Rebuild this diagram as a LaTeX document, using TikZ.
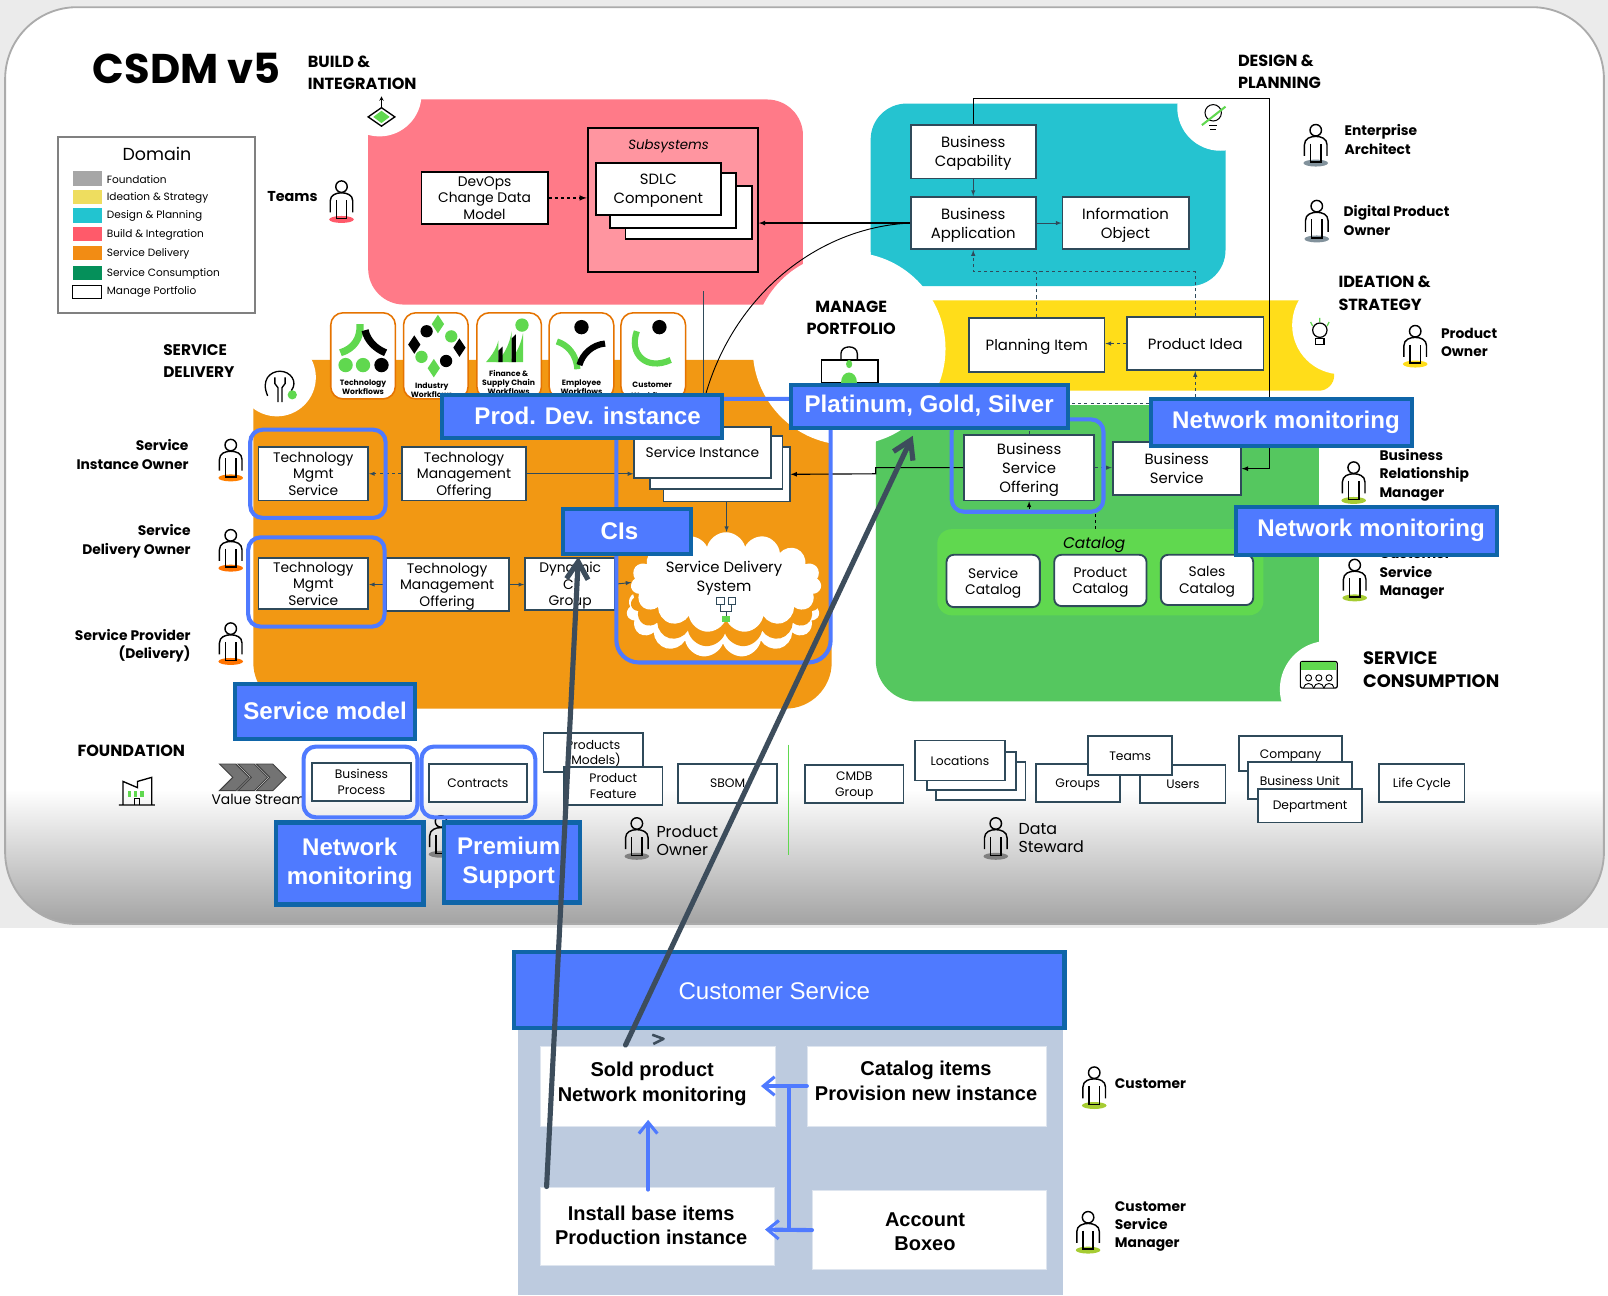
\documentclass[tikz,border=0pt]{standalone}
\usepackage{fontspec}
\setmainfont{Poppins}
\newfontfamily\tagfont{Liberation Sans}
\usetikzlibrary{shapes,calc,arrows.meta}
\definecolor{mslate}{HTML}{2F4A5A}
\definecolor{mblue}{HTML}{4F7AFF}
\definecolor{mtagb}{HTML}{0F65A8}
\definecolor{mdark}{HTML}{3D4D5C}
\definecolor{mpink}{HTML}{FF7A88}
\definecolor{mpink2}{HTML}{FF95A0}
\definecolor{mteal}{HTML}{25C3D0}
\definecolor{myellow}{HTML}{FFDD1A}
\definecolor{morange}{HTML}{F29813}
\definecolor{mgreen}{HTML}{55C75F}
\definecolor{mlime}{HTML}{60D84F}
\definecolor{mpanel}{HTML}{BDCBDF}
\definecolor{lfound}{HTML}{A6A6A6}
\definecolor{lidea}{HTML}{EEDD5F}
\definecolor{ldesign}{HTML}{22C4D0}
\definecolor{lbuild}{HTML}{FF5A6A}
\definecolor{lserv}{HTML}{F28C14}
\definecolor{lcons}{HTML}{05905A}
\newcommand{\fz}[2]{\fontsize{#1}{#2}\selectfont}
\tikzstyle{l1}=[line width=0.9]
\tikzstyle{box}=[draw=mslate, fill=white, line width=1.8, align=center, inner sep=0pt, text depth=0pt, font=\fz{14.5}{18.5}]
\tikzstyle{boxm}=[box, font=\fz{13.5}{16}]
\tikzstyle{boxs}=[box, font=\fz{12}{15}]
\tikzstyle{cardbox}=[draw=orange!90!black, fill=white, line width=1.5, rounded corners=12pt, minimum width=63, minimum height=84, inner sep=0pt]
\tikzstyle{cardtxt}=[align=center, inner sep=0pt, font=\bfseries\fz{7.5}{8.5}]
\tikzstyle{title}=[align=left, anchor=west, inner sep=0pt, font=\bfseries\fz{15.7}{22}]
\tikzstyle{role}=[align=left, anchor=west, inner sep=0pt, font=\bfseries\fz{13.5}{18}]
\tikzstyle{roler}=[role, align=right, anchor=east]
\tikzstyle{rolep}=[align=left, anchor=west, inner sep=0pt, font=\fz{15.5}{18}]
\tikzstyle{halo}=[draw=mblue, line width=4, rounded corners=12pt]
\tikzstyle{tagbox}=[draw=mtagb, fill=mblue, line width=4, text=white, align=center, inner sep=0pt, font=\tagfont\bfseries\fz{23.5}{28}]
\tikzstyle{whitebox}=[fill=white, draw=mpanel!50!white, line width=0.5, inner sep=0pt]
\tikzstyle{whitetxt}=[align=center, inner sep=0pt, font=\tagfont\bfseries\fz{19.5}{24}]
\tikzstyle{arr}=[l1, draw=mslate, ->, >=latex]
\tikzstyle{arrd}=[arr, dashed]
\tikzstyle{arrb}=[arr, line width=1.1, draw=black]
\tikzstyle{bluearr}=[line width=4, draw=mblue, line cap=round, -{Straight Barb[length=11pt,width=18pt,line width=3pt]}]
\tikzstyle{darkarr}=[line width=5, draw=mdark, line cap=round, -{Straight Barb[length=17pt,width=21pt]}]
\tikzset{person/.pic={
    \fill[#1] (0,18) ellipse[x radius=12, y radius=3.4];
    \draw[line width=1.4] (0,-14) circle[radius=5.6];
    \draw[line width=1.4] (-11,11) -- (-11,0) .. controls (-11,-6) and (-5,-8) .. (0,-8) .. controls (5,-8) and (11,-6) .. (11,0) -- (11,11);
    \draw[line width=1.4] (-5,-1) -- (-5,17) -- (5,17) -- (5,-1);
}}
\begin{document}
\begin{tikzpicture}[x=1pt, y=-1pt]
    \useasboundingbox (0,0) rectangle (1568,1263);

    % frame
    \fill[black!8] (0,0) rectangle (1568,905);
    \fill[white, rounded corners=70pt] (5,7) rectangle (1564,901);
    \begin{scope}
        \clip[rounded corners=70pt] (5,7) rectangle (1564,901);
        \shade[top color=white, bottom color=black!36] (5,770) rectangle (1564,901);
    \end{scope}
    \draw[black!33, line width=1.8, rounded corners=70pt] (5,7) rectangle (1564,901);

    % domains
    \fill[mpink, rounded corners=35pt] (359,97) rectangle (783,297);
    \fill[mteal, rounded corners=35pt] (849,101) rectangle (1195,279);
    \fill[myellow, rounded corners=15pt] (880,293) rectangle (1301,381);
    \fill[morange, rounded corners=45pt] (247,351) rectangle (811,691);
    \fill[mgreen, rounded corners=40pt] (854,395) rectangle (1286,684);
    \fill[white] (370,92) circle[radius=41];
    \fill[white] (1190,105) circle[radius=42];
    \fill[white] (1308,317) circle[radius=48];
    \fill[white] (270,368) circle[radius=38];
    \fill[white] (1295,672) circle[radius=47];
    \fill[white] (828,340) circle[radius=94];

    % titles
    \node[inner sep=0pt, font=\bfseries\fz{40.5}{46}] (csdm) at (182,67) {CSDM v5};
    \node[title] (ttbuild) at (300,71) {BUILD \&\\INTEGRATION};
    \node[title] (ttdesign) at (1207,70) {DESIGN \&\\PLANNING};
    \node[title] (ttidea) at (1305,286) {IDEATION \&\\STRATEGY};
    \node[title, font=\bfseries\fz{15}{22}] (ttserv) at (159,352) {SERVICE\\DELIVERY};
    \node[title, align=center, anchor=center] (ttmanage) at (830,310) {MANAGE\\PORTFOLIO};
    \node[title, font=\bfseries\fz{17.5}{22}] (ttcons) at (1329,653) {SERVICE\\CONSUMPTION};
    \node[title, anchor=center] (ttfound) at (128,732) {FOUNDATION};

    % legend
    \node[draw=black!50, line width=2, minimum width=192, minimum height=171, inner sep=0pt] (legend) at (153,219.5) {};
    \node[inner sep=0pt, font=\fz{17}{20}] (legendt) at (153,150) {Domain};
    \foreach \n/\y/\c/\t in {a/174/lfound/Foundation, b/192/lidea/Ideation \& Strategy, c/210/ldesign/Design \& Planning, d/228/lbuild/Build \& Integration, e/247/lserv/Service Delivery, f/266/lcons/Service Consumption}{
            \fill[\c] (71,\y-7) rectangle (99,\y+7);
            \node[anchor=west, inner sep=0pt, font=\fz{10.3}{12}] (leg\n) at (104,\y+1) {\t};
        }
    \draw[black, line width=0.9] (71,278) rectangle (99,291);
    \node[anchor=west, inner sep=0pt, font=\fz{10.3}{12}] (legg) at (104,285) {Manage Portfolio};

    % build
    \node[boxm, draw=black, minimum width=123, minimum height=51] (devops) at (472.5,193) {DevOps\\Change Data\\Model};
    \node[draw=black, fill=mpink2, line width=1.8, minimum width=166, minimum height=140, inner sep=0pt] (subsys) at (656,195) {};
    \node[inner sep=0pt, text depth=0pt, font=\itshape\fz{13}{16}] (subsyst) at (652,141) {Subsystems};
    \node[box, draw=black, minimum width=123, minimum height=52] (sdlc3) at (671.5,207) {};
    \node[box, draw=black, minimum width=123, minimum height=53] (sdlc2) at (656.5,195.5) {};
    \node[box, draw=black, minimum width=122, minimum height=51] (sdlc1) at (642,184.5) {SDLC\\Component};
    \draw[arrb, dashed, line width=1.4] (devops.east) -- (devops.east -| subsys.west);

    % design
    \node[box, minimum width=122, minimum height=52] (bc) at (949,148) {Business\\Capability};
    \node[box, minimum width=122, minimum height=51] (ba) at (949,217.5) {Business\\Application};
    \node[box, minimum width=123, minimum height=51] (io) at (1097.5,217.5) {Information\\Object};
    \draw[arr] (bc) -- (ba);
    \draw[arr] (ba) -- (io);

    % ideation
    \node[box, minimum width=132, minimum height=53] (planning) at (1011,336.5) {Planning Item};
    \node[box, minimum width=133, minimum height=52] (pid) at (1165.5,335) {Product Idea};
    \coordinate (dashy) at (949,265);
    \coordinate (dashlow) at (1165.5,393);
    \draw[arrd] (pid.north) |- (dashy) -- (ba.south);
    \draw[mslate, l1, dashed] (planning.north) -- (planning.north |- dashy);
    \draw[arrd] (pid.west) -- (pid.west -| planning.east);

    % cards
    \node[cardbox] (card1) at (354,347) {};
    \node[cardbox] (card2) at (425,347) {};
    \node[cardbox] (card3) at (496.5,347) {};
    \node[cardbox] (card4) at (567,347) {};
    \node[cardbox] (card5) at (637,347) {};
    \draw[mlime, line width=7] (351,316) .. controls (352,330) and (345,340) .. (332,344);
    \draw[black, line width=7] (356,322) .. controls (358,332) and (366,340) .. (376,344);
    \foreach \x/\c in {337/mlime,354/mlime,372/black}{
            \fill[\c] (\x,356) circle[radius=7];
        }
    \foreach \x/\y/\c in {416/323/black,440/328/mlime,411/348/mlime,435/352/black}{
            \fill[\c] (\x,\y) circle[radius=6];
        }
    \foreach \x/\y/\c in {427/316/mlime,404/336/black,448/339/black,423/359/mlime}{
            \fill[\c] (\x,\y-9) -- (\x+6,\y) -- (\x,\y+9) -- (\x-6,\y) -- cycle;
        }
    \fill[mlime] (509,317) circle[radius=6.5];
    \fill[mlime] (474,353) .. controls (480,346) and (484,340) .. (486,332) -- (486,353) -- cycle;
    \fill[mlime] (484,353) .. controls (492,346) and (497,335) .. (499,323) -- (499,353) -- cycle;
    \fill[mlime] (496,353) .. controls (504,345) and (508,335) .. (510,325) -- (510,353) -- cycle;
    \fill[black] (486,353) -- (486,342) -- (490,338) -- (490,353) -- cycle;
    \fill[black] (499,353) -- (499,330) -- (503,326) -- (503,353) -- cycle;
    \fill[black] (567,319) circle[radius=7];
    \draw[mlime, line width=6] (543,333) .. controls (553,336) and (562,345) .. (563,360);
    \draw[black, line width=6] (590,335) .. controls (578,336) and (568,345) .. (565,356);
    \fill[black] (643,319) circle[radius=7];
    \draw[mlime, line width=6] (621,323) .. controls (613,345) and (630,362) .. (654,351);
    \node[cardtxt] (cardt1) at (354,377.5) {Technology\\Workflows};
    \node[cardtxt] (cardt2) at (421,380.5) {Industry\\Workflows};
    \node[cardtxt] (cardt3) at (496,373) {Finance \&\\Supply Chain\\Workflows};
    \node[cardtxt] (cardt4) at (567,377.5) {Employee\\Workflows};
    \node[cardtxt, font=\bfseries\fz{7.5}{11}] (cardt5) at (636,380.5) {Customer\\Workflows};

    % delivery
    \node[boxm, minimum width=107, minimum height=52] (tms1) at (305.5,462) {Technology\\Mgmt\\Service};
    \node[boxm, minimum width=121, minimum height=52] (tmo1) at (452.5,462) {Technology\\Management\\Offering};
    \node[boxm, minimum width=107, minimum height=50] (tms2) at (305.5,569) {Technology\\Mgmt\\Service};
    \node[boxm, minimum width=120, minimum height=52] (tmo2) at (436,570) {Technology\\Management\\Offering};
    \node[boxm, minimum width=88, minimum height=51] (dyn) at (556,569.5) {Dynamic\\CI\\Group};
    \node[boxm, minimum width=123, minimum height=53] (si3) at (708.5,462.5) {};
    \node[boxm, minimum width=129, minimum height=52] (si2) at (698.5,451) {};
    \node[boxm, minimum width=133, minimum height=50] (si1) at (685,441) {Service Instance};
    \node[cloud, cloud puffs=15, aspect=1.9, fill=white, inner sep=0pt, minimum width=188, minimum height=92] (sds3) at (705,595) {};
    \node[cloud, cloud puffs=15, aspect=1.9, fill=morange, inner sep=0pt, minimum width=184, minimum height=90] (sds2) at (707,586) {};
    \node[cloud, cloud puffs=15, aspect=1.9, fill=white, inner sep=0pt, minimum width=186, minimum height=98] (sds) at (708,568) {};
    \node[align=center, inner sep=0pt, text depth=0pt, font=\fz{14.5}{19}] (sdst) at (706,562) {Service Delivery\\System};
    \draw[mslate, l1] (703,589) -- (703,596) -- (713,596) -- (713,589) (708,596) -- (708,601);
    \draw[mslate, l1, fill=white] (699,583) rectangle (706,589) (710,583) rectangle (717,589);
    \fill[mlime] (704,601) rectangle (712,607);
    \draw[arr] (tmo1.east) -- (tmo1.east -| si1.west);
    \draw[arrd] (tmo1.west) -- (tms1.east);
    \draw[arr] (si3.south) -- (si3.south |- sds.north);
    \draw[arr] (tmo2.west) -- (tmo2.west -| tms2.east);
    \draw[arr] (tmo2.east) -- (tmo2.east -| dyn.west);
    \draw[arr] (dyn.east) -- (sds.west);

    % consumption
    \node[box, minimum width=127, minimum height=64] (bso) at (1003.5,456) {Business\\Service\\Offering};
    \node[box, minimum width=125, minimum height=52] (bs) at (1147.5,457) {Business\\Service};
    \node[fill=mlime, rounded corners=14pt, minimum width=318, minimum height=84, inner sep=0pt] (catg) at (1073,558) {};
    \node[inner sep=0pt, text depth=0pt, font=\itshape\fz{15}{18}] (catgt) at (1067,529) {Catalog};
    \node[boxm, rounded corners=7pt, minimum width=91, minimum height=51] (cats) at (968.5,566.5) {Service\\Catalog};
    \node[boxm, rounded corners=7pt, minimum width=90, minimum height=50] (catp) at (1073,566) {Product\\Catalog};
    \node[boxm, rounded corners=7pt, minimum width=90, minimum height=49] (catsl) at (1177,565.5) {Sales\\Catalog};
    \coordinate (catup) at (1068,499);
    \coordinate (jog) at (854,462);
    \draw[arrd, draw=black] (catup |- catg.north) -- (catup) -- (catup -| bso.south) -- (bso.south);
    \draw[arrd] (bso.east) -- (bso.east -| bs.west);
    \draw[arrb] (bso.west) -| (jog) -- (si3.east);
    \draw[arrd] (bso.north) |- (dashlow) -- (pid.south);

    % long links
    \coordinate (topr) at (1238,96);
    \coordinate (subdrop) at (686,284);
    \coordinate (curveend) at (688,385);
    \draw[arrb] (bc.north) |- (topr) |- (bs.east);
    \draw[arrb] (ba.west) -- (ba.west -| subsys.east);
    \draw[black, l1] (ba.west) .. controls (795,222) and (715,290) .. (curveend);
    \draw[mslate, l1] (subdrop) -- (subdrop |- si1.north);

    % foundation
    \node[boxs, minimum width=97, minimum height=37] (bproc) at (352.5,762.5) {Business\\Process};
    \node[boxs, minimum width=96, minimum height=37] (contracts) at (466,763.5) {Contracts};
    \node[boxs, minimum width=97, minimum height=38] (prodm) at (578.5,734) {Products\\(Models)};
    \node[boxs, minimum width=96, minimum height=37] (prodf) at (598,766.5) {Product\\Feature};
    \node[boxs, minimum width=97, minimum height=38] (sbom) at (709.5,764) {SBOM};
    \draw[mlime, line width=0.8] (769,726) -- (769,834);
    \node[boxs, minimum width=96, minimum height=37] (cmdb) at (833,764.5) {CMDB\\Group};
    \node[boxs, minimum width=87, minimum height=37] (loc3) at (956.5,761.5) {};
    \node[boxs, minimum width=87, minimum height=37] (loc2) at (947.5,751.5) {};
    \node[boxs, minimum width=88, minimum height=39] (loc1) at (936,741.5) {Locations};
    \node[boxs, minimum width=82, minimum height=37] (groups) at (1051,763.5) {Groups};
    \node[boxs, minimum width=83, minimum height=37] (users) at (1153.5,764.5) {Users};
    \node[boxs, minimum width=82, minimum height=38] (teamsb) at (1102,737) {Teams};
    \node[boxs, minimum width=101, minimum height=34] (company) at (1258.5,735) {Company};
    \node[boxs, minimum width=101, minimum height=36] (bunit) at (1267.5,761) {Business Unit};
    \node[boxs, minimum width=101, minimum height=33] (dept) at (1277.5,785.5) {Department};
    \node[boxs, minimum width=83, minimum height=37] (life) at (1386.5,763.5) {Life Cycle};
    \node[inner sep=0pt, text depth=0pt, font=\fz{13.5}{16}] (vstream) at (252,779) {Value Stream};
    \foreach \x in {0,18,36}{
            \fill[black!55, draw=black!75, l1] (214+\x,745) -- (230+\x,745) -- (243+\x,758) -- (230+\x,771) -- (214+\x,771) -- (227+\x,758) -- cycle;
        }

    % icons
    \draw[l1, ->, >=stealth] (372,105) -- (372,94);
    \draw[line width=1.3] (372,105) -- (385,114) -- (372,123) -- (359,114) -- cycle;
    \fill[mlime] (372,108) -- (380,114) -- (372,120) -- (364,114) -- cycle;
    \draw[line width=1] (1183,110) circle[radius=8];
    \draw[line width=1] (1179,122) -- (1187,122) (1180,126) -- (1186,126);
    \draw[mlime, line width=2] (1172,122) -- (1195,104);
    \draw[line width=1.2] (1287,322) circle[radius=7];
    \draw[line width=1.2] (1283,330) rectangle (1291,336);
    \draw[mlime, line width=1.2] (1287,310) -- (1287,314) (1278,314) -- (1280,318) (1296,314) -- (1294,318);
    \draw[line width=1.3] (261,386) .. controls (254,370) and (264,362) .. (273,362) .. controls (283,362) and (291,372) .. (284,381);
    \draw[line width=1.3] (268,368) -- (268,374) -- (271,378) -- (271,392) (278,368) -- (278,374) -- (275,378) -- (275,392);
    \fill[mlime] (285,385) circle[radius=4.5];
    \draw[line width=1.2, fill=white, rounded corners=2pt] (1268,645) rectangle (1304,671);
    \fill[mlime] (1269,646) rectangle (1303,653);
    \foreach \x in {1276,1286,1296}{
            \draw[line width=0.9] (\x,661) circle[radius=3];
            \draw[line width=0.9] (\x-5,671) .. controls (\x-4,665) and (\x+4,665) .. (\x+5,671);
        }
    \draw[line width=1.3] (116,785) -- (151,785) (120,785) -- (120,762) -- (134,768) -- (134,762) -- (148,758) -- (148,785);
    \foreach \x in {125,131,137}{
            \fill[mlime] (\x,771) rectangle (\x+3,777);
        }
    \draw[line width=1] (131,785) -- (131,779) -- (136,779) -- (136,785);
    \draw[line width=1.3] (801,351) rectangle (856,373);
    \draw[line width=1.3] (820,351) -- (820,345) .. controls (820,336) and (836,336) .. (836,345) -- (836,351);
    \fill[mlime] (828,355) ellipse[x radius=3, y radius=4];
    \fill[mlime] (820,373) .. controls (820,360) and (836,360) .. (836,373) -- cycle;

    % roles
    \pic at (333,196) {person=lbuild};
    \pic at (1283,141) {person=mslate!60!white};
    \pic at (1284,215) {person=mslate!60!white};
    \pic at (1380,337) {person=myellow};
    \pic at (225,448) {person=orange};
    \pic at (225,536) {person=orange!90!red};
    \pic at (225,627) {person=orange!90!red};
    \pic at (1320,470) {person=lime!60!gray};
    \pic at (1321,565) {person=lime!60!gray};
    \pic at (430,815) {person=black!50};
    \pic at (621,817) {person=black!50};
    \pic at (971,817) {person=black!50};
    \pic at (1067,1060) {person=lime!60!gray};
    \pic at (1061,1201) {person=lime!60!gray};
    \node[roler, font=\bfseries\fz{14}{18}] (rteams) at (310,192) {Teams};
    \node[role] (rea) at (1311,136) {Enterprise\\Architect};
    \node[role] (rdpo) at (1310,215) {Digital Product\\Owner};
    \node[role] (rpo) at (1405,334) {Product\\Owner};
    \node[roler] (rsio) at (184,443) {Service\\Instance Owner};
    \node[roler] (rsdo) at (186,528) {Service\\Delivery Owner};
    \node[roler] (rsp) at (186,629.5) {Service Provider\\(Delivery)};
    \node[role] (rbrm) at (1345,463.5) {Business\\Relationship\\Manager};
    \node[role] (rcsm) at (1345,560) {Customer\\Service\\Manager};
    \node[rolep] (rpof) at (640,820) {Product\\Owner};
    \node[rolep] (rds) at (993,817) {Data\\Steward};
    \node[role] (rcust) at (1087,1057) {Customer};
    \node[role] (rcsm2) at (1087,1196) {Customer\\Service\\Manager};

    % marked items
    \draw[halo] (244,419) rectangle (376,505);
    \draw[halo] (242,524) rectangle (375,611);
    \draw[halo] (296,728) rectangle (407,797);
    \draw[halo] (411,728) rectangle (522,797);
    \draw[halo] (928,409) rectangle (1076,499);
    \draw[halo, rounded corners=22pt] (601,389) rectangle (810,646);

    \node[tagbox, minimum width=273, minimum height=42] (tagprod) at (567.5,406) {\hspace*{11pt}Prod. Dev. instance};
    \node[tagbox, minimum width=270, minimum height=42] (tagplat) at (906,396) {Platinum, Gold, Silver};
    \node[tagbox, minimum width=255, minimum height=46] (tagnet1) at (1249.5,412) {\hspace*{9pt}Network monitoring};
    \node[tagbox, minimum width=255, minimum height=47] (tagnet2) at (1332.5,517.5) {\hspace*{9pt}Network monitoring};
    \node[tagbox, minimum width=125, minimum height=44] (tagcis) at (611.5,518) {CIs\hspace*{15pt}};
    \node[tagbox, minimum width=176, minimum height=54] (tagsm) at (317,694) {\raisebox{2pt}{Service model}};
    \node[tagbox, minimum width=144, minimum height=80] (tagnet3) at (341,842) {Network\\monitoring};
    \node[tagbox, minimum width=133, minimum height=78] (tagprem) at (499.5,841) {Premium\hspace*{7pt}\\Support\hspace*{7pt}};

    % customer service
    \fill[mpanel] (505,1002) rectangle (1037,1263);
    \node[tagbox, minimum width=537, minimum height=74] (tagcs) at (769.5,965) {};
    \node[inner sep=0pt, text=white, font=\tagfont\fz{23.5}{28}] (tagcst) at (755,966) {Customer Service};
    \node[whitebox, minimum width=229, minimum height=78] (sold) at (641.5,1059) {};
    \node[whitebox, minimum width=233, minimum height=78] (catit) at (903.5,1059) {};
    \node[whitebox, minimum width=228, minimum height=76] (install) at (641,1196) {};
    \node[whitebox, minimum width=228, minimum height=77] (acct) at (906,1199.5) {};
    \node[whitetxt] (soldt) at (636,1057) {Sold product\\Network monitoring};
    \node[whitetxt] (catitt) at (903,1054) {Catalog items\\Provision new instance};
    \node[whitetxt] (installt) at (635,1195) {Install base items\\Production instance};
    \node[whitetxt] (acctt) at (902,1201) {Account\\Boxeo};
    \coordinate (upfoot) at (632,1160);
    \coordinate (uptip) at (632,1092);
    \coordinate (cattip) at (742,1059);
    \coordinate (accttip) at (746,1199);
    \coordinate (busup) at (769,1059);
    \draw[bluearr] (upfoot) -- (uptip);
    \draw[bluearr] (catit.west) -- (cattip);
    \draw[bluearr] (acct.west) -- (accttip);
    \draw[line width=4, draw=mblue] (busup) -- (busup |- acct.west);
    \draw[mdark, line width=2.5, line join=round] (636,1009) -- (647,1013) -- (637,1018);

    % pointers
    \coordinate (cisfoot) at (533,1157);
    \coordinate (cistip) at (564,543);
    \coordinate (platfoot) at (610,1019);
    \coordinate (plattip) at (890,425);
    \draw[darkarr] (cisfoot) -- (cistip);
    \draw[darkarr] (platfoot) -- (plattip);

\end{tikzpicture}
\end{document}
